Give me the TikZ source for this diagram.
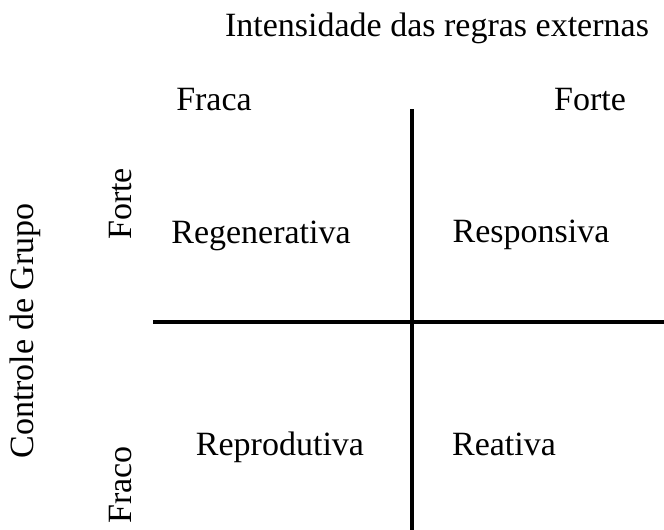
\documentclass[tikz,border=0pt]{standalone}
\usepackage{fontspec}
\setmainfont{Liberation Serif}
\begin{document}
\begin{tikzpicture}[x=1pt, y=-1pt, every node/.style={font=\fontsize{34}{40}\selectfont, inner sep=0pt, anchor=base}]
\useasboundingbox (0,0) rectangle (664,530);
\node (title) at (437, 36) {Intensidade das regras externas};
\node (fraca) at (214, 110) {Fraca};
\node (forteX) at (590, 110) {Forte};
\node[rotate=90] (eixo) at (33, 331) {Controle de Grupo};
\node[rotate=90] (forteY) at (131, 204) {Forte};
\node[rotate=90] (fraco) at (131, 485) {Fraco};
\node (regen) at (261, 243) {Regenerativa};
\node (respo) at (531, 242) {Responsiva};
\node (repro) at (280, 455) {Reprodutiva};
\node (reati) at (504, 455) {Reativa};
\coordinate (vtop) at (412, 109);
\coordinate (vbot) at (412, 530);
\coordinate (hleft) at (153, 322);
\coordinate (hright) at (664, 322);
\path [-, line width=4pt, draw=black] (vtop) edge (vbot);
\path [-, line width=4pt, draw=black] (hleft) edge (hright);
\end{tikzpicture}
\end{document}
